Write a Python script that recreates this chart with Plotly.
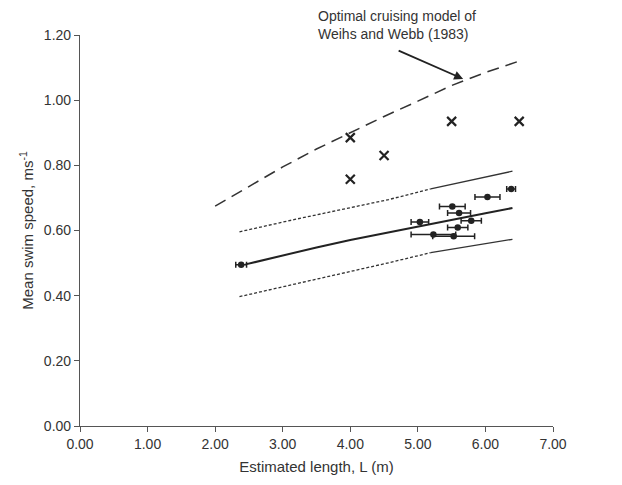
import plotly.graph_objects as go

# Weihs & Webb optimal cruising model (dashed)
ww_len = [2.0, 2.5, 3.0, 3.5, 4.0, 4.5, 5.0, 5.5, 6.0, 6.5]
ww_speed = [0.675, 0.735, 0.795, 0.85, 0.90, 0.95, 0.997, 1.045, 1.085, 1.12]

# crosses
x_len = [4.0, 4.0, 4.5, 5.5, 6.5]
x_speed = [0.885, 0.757, 0.83, 0.935, 0.935]

# mean points with horizontal error bars
pt_len = [2.385, 5.03, 5.51, 5.61, 5.79, 5.59, 5.23, 5.53, 6.03, 6.38]
pt_speed = [0.495, 0.626, 0.674, 0.654, 0.630, 0.609, 0.588, 0.582, 0.703, 0.727]
pt_err = [0.08, 0.13, 0.19, 0.17, 0.15, 0.15, 0.33, 0.31, 0.185, 0.065]

# regression line
reg_len = [2.45, 3.0, 3.5, 4.0, 4.5, 5.0, 5.5, 6.0, 6.40]
reg_speed = [0.496, 0.524, 0.548, 0.571, 0.592, 0.612, 0.633, 0.653, 0.669]

# confidence bands (dotted part, solid part)
up_dot_len = [2.36, 3.18, 4.57, 5.19]
up_dot_speed = [0.596, 0.634, 0.695, 0.728]
up_sol_len = [5.19, 6.40]
up_sol_speed = [0.728, 0.782]
lo_dot_len = [2.36, 3.18, 4.57, 5.19]
lo_dot_speed = [0.397, 0.435, 0.501, 0.532]
lo_sol_len = [5.19, 6.40]
lo_sol_speed = [0.532, 0.573]

x_ticks = [0, 1, 2, 3, 4, 5, 6, 7]
y_ticks = [0, 0.2, 0.4, 0.6, 0.8, 1.0, 1.2]

ink = "#222222"
font = "Liberation Sans, Arial"
fig = go.Figure()
fig.add_trace(go.Scatter(x=ww_len, y=ww_speed, mode="lines",
                         line=dict(color="#333333", width=1.5, dash="12px,7px")))
for xs, ys, d in [(up_dot_len, up_dot_speed, "3px,2px"), (lo_dot_len, lo_dot_speed, "3px,2px"),
                  (up_sol_len, up_sol_speed, "solid"), (lo_sol_len, lo_sol_speed, "solid")]:
    fig.add_trace(go.Scatter(x=xs, y=ys, mode="lines",
                             line=dict(color="#333333", width=1.3, dash=d)))
fig.add_trace(go.Scatter(x=reg_len, y=reg_speed, mode="lines",
                         line=dict(color=ink, width=2)))
fig.add_trace(go.Scatter(x=pt_len, y=pt_speed, mode="markers",
                         marker=dict(color=ink, size=6.5),
                         error_x=dict(type="data", array=pt_err, color=ink, thickness=1.5, width=3)))
fig.add_trace(go.Scatter(x=x_len, y=x_speed, mode="markers",
                         marker=dict(symbol="x-thin", size=9, line=dict(color=ink, width=2.2))))

fig.add_annotation(x=5.67, y=1.065, xref="x", yref="y", text="", showarrow=True,
                   ax=-66, ay=-29, arrowhead=2, arrowsize=1, arrowwidth=1.8, arrowcolor=ink)
fig.add_annotation(xref="paper", yref="paper", x=(316 - 80) / 473, y=1 + 10 / 391,
                   xanchor="left", yanchor="middle", align="left", showarrow=False,
                   text="Optimal cruising model of<br>Weihs and Webb (1983)",
                   font=dict(family=font, size=14, color="#333333"))

axis_common = dict(showline=True, linecolor="#555555", linewidth=1.2, ticks="outside",
                   ticklen=5, tickcolor="#555555", showgrid=False, zeroline=False,
                   automargin=False,
                   tickfont=dict(family=font, size=14, color="#333333"),
                   title_font=dict(family=font, size=15, color="#333333"))
fig.update_xaxes(range=[0, 7], tickvals=x_ticks, ticktext=[f"{v:.2f}" for v in x_ticks],
                 title_text="Estimated length, L (m)", title_standoff=10, **axis_common)
fig.update_yaxes(range=[0, 1.2], tickvals=y_ticks, ticktext=[f"{v:.2f}" for v in y_ticks],
                 title_text="Mean swim speed, ms<sup>-1</sup>", title_standoff=6, **axis_common)
# page body adds an 8px offset, so the figure is 8px smaller and margins compensate
fig.update_layout(width=614, height=477, showlegend=False, plot_bgcolor="white",
                  paper_bgcolor="white", margin=dict(l=72, r=69, t=27, b=59))
fig.write_html("out.html")
